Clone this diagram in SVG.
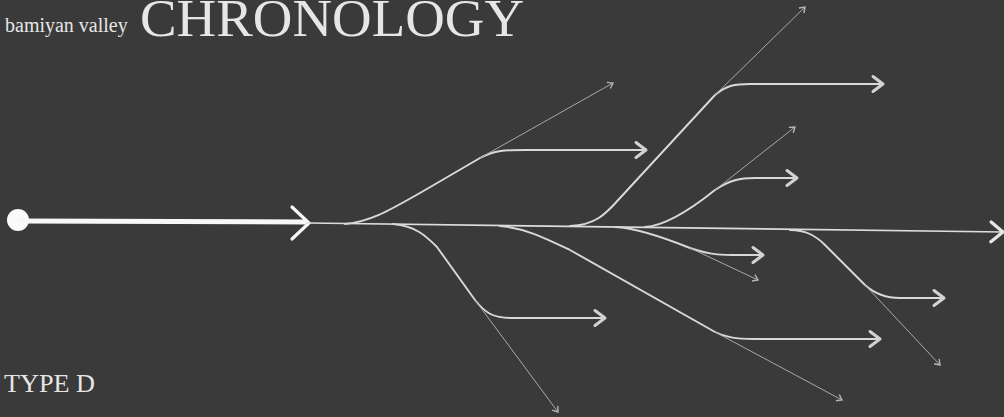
<svg xmlns="http://www.w3.org/2000/svg" width="1004" height="417" viewBox="0 0 1004 417">
<style>
.bg{fill:#3a3a3a}
.t{font-family:"Liberation Serif","Times New Roman",serif;fill:#e6e6e6}
.main{stroke:#f7f7f7;stroke-width:5;fill:none}
.mainthin{stroke:#dcdcdc;stroke-width:1.6;fill:none}
.thick{stroke:#d9d9d9;stroke-width:1.9;fill:none;stroke-linecap:round}
.thin{stroke:#a9a9a9;stroke-width:1;fill:none}
</style>
<defs>
<marker id="chev" markerUnits="userSpaceOnUse" markerWidth="20" markerHeight="20" viewBox="-12 -10 14 20" refX="0" refY="0" orient="auto">
<path d="M-10,-7.5 L0,0 L-10,7.5" fill="none" stroke="#d2d2d2" stroke-width="3" stroke-linecap="round" stroke-linejoin="round"/>
</marker>
<marker id="chevMain" markerUnits="userSpaceOnUse" markerWidth="24" markerHeight="24" viewBox="-14 -11 16 22" refX="0" refY="0" orient="auto">
<path d="M-11,-9 L0,0 L-11,9" fill="none" stroke="#e6e6e6" stroke-width="3" stroke-linecap="round" stroke-linejoin="round"/>
</marker>
<marker id="tip" markerUnits="userSpaceOnUse" markerWidth="10" markerHeight="10" viewBox="-7 -5 8 10" refX="0" refY="0" orient="auto">
<path d="M-5,-3.5 L0,0 L-5,3.5" fill="none" stroke="#b5b5b5" stroke-width="1.4"/>
</marker>
</defs>
<rect class="bg" x="0" y="0" width="1004" height="417"/>
<g id="title">
<text class="t" x="5" y="32" font-size="20">bamiyan valley</text>
<text class="t" x="140" y="36" font-size="52" fill="#f2f2f2" textLength="384" lengthAdjust="spacingAndGlyphs">CHRONOLOGY</text>
</g>
<g id="label-type">
<text class="t" x="4" y="392" font-size="25" fill="#dadada" textLength="91" lengthAdjust="spacingAndGlyphs">TYPE D</text>
</g>
<g id="start">
<circle cx="18" cy="220" r="11" fill="#fafafa"/>
<line class="main" x1="18" y1="221" x2="306" y2="222"/>
<path d="M292,207 L309,223 L292,239" fill="none" stroke="#f7f7f7" stroke-width="3.2" stroke-linecap="round" stroke-linejoin="miter"/>
</g>
<g id="connectors">
<path id="mainline" class="mainthin" d="M308,223 L1003,232" marker-end="url(#chevMain)"/>
<g id="branch1">
<path class="thick" d="M345,224 C370,222 390,210 420,193 L480,158 C495,150 505,150 525,150 L646,150" marker-end="url(#chev)"/>
<path class="thin" d="M480,158 L613,83" marker-end="url(#tip)"/>
</g>
<g id="branch2">
<path class="thick" d="M570,226 C595,225 605,215 620,198 L715,95 C727,85 735,84 750,84 L883,84" marker-end="url(#chev)"/>
<path class="thin" d="M715,95 L805,7" marker-end="url(#tip)"/>
</g>
<g id="branch3">
<path class="thick" d="M645,227 C665,226 690,210 715,190 C730,180 740,178 755,178 L797,178" marker-end="url(#chev)"/>
<path class="thin" d="M715,190 L795,127" marker-end="url(#tip)"/>
</g>
<g id="branch4">
<path class="thick" d="M393,224 C415,226 425,235 437,247 L475,300 C486,314 494,318 512,318 L605,318" marker-end="url(#chev)"/>
<path class="thin" d="M475,300 L558,412" marker-end="url(#tip)"/>
</g>
<g id="branch5">
<path class="thick" d="M500,226 C525,228 545,238 570,250 L715,332 C725,337 735,339 755,339 L880,339" marker-end="url(#chev)"/>
<path class="thin" d="M715,332 L842,400" marker-end="url(#tip)"/>
</g>
<g id="branch6">
<path class="thick" d="M615,227 C635,228 660,236 690,248 C705,253 715,255 732,255 L763,255" marker-end="url(#chev)"/>
<path class="thin" d="M690,248 L758,280" marker-end="url(#tip)"/>
</g>
<g id="branch7">
<path class="thick" d="M790,230 C805,230 815,235 825,245 L865,285 C875,294 885,298 900,298 L944,298" marker-end="url(#chev)"/>
<path class="thin" d="M865,285 L940,365" marker-end="url(#tip)"/>
</g>
</g>
</svg>
